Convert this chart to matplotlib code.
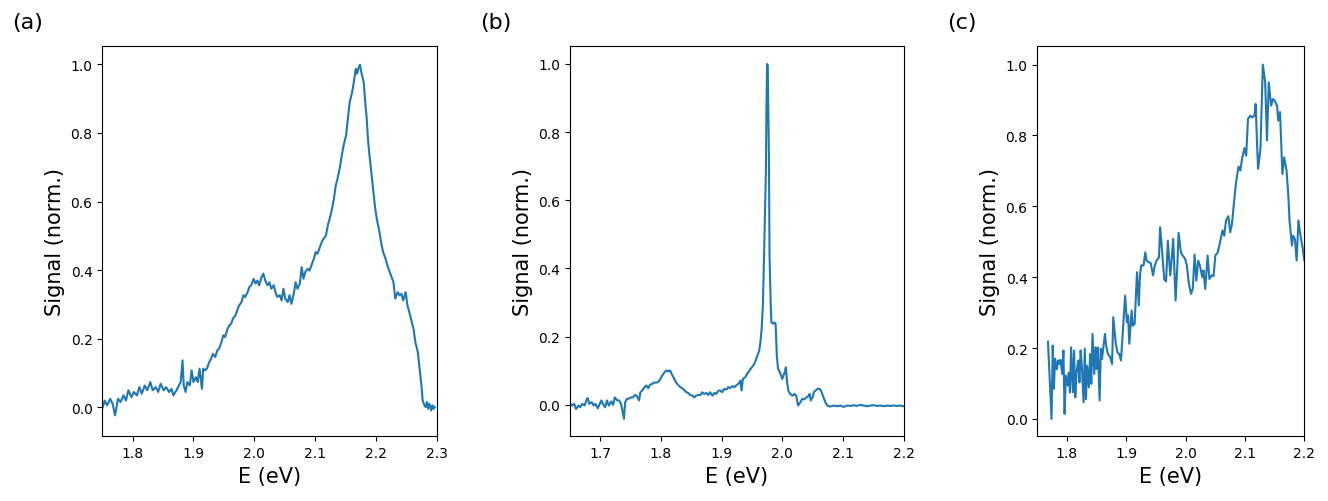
import matplotlib
matplotlib.use("Agg")
import matplotlib.pyplot as plt

# panel (a)
energy_a = [1.750, 1.754, 1.758, 1.763, 1.767, 1.771, 1.776, 1.780, 1.785, 1.789,
            1.793, 1.798, 1.802, 1.807, 1.811, 1.815, 1.820, 1.824, 1.829, 1.833,
            1.838, 1.842, 1.846, 1.851, 1.855, 1.860, 1.864, 1.867, 1.872, 1.876,
            1.879, 1.882, 1.884, 1.887, 1.890, 1.894, 1.897, 1.900, 1.904, 1.907,
            1.910, 1.914, 1.916, 1.919, 1.922, 1.926, 1.929, 1.932, 1.936, 1.939,
            1.942, 1.946, 1.949, 1.952, 1.956, 1.959, 1.962, 1.965, 1.969, 1.972,
            1.975, 1.979, 1.982, 1.985, 1.989, 1.992, 1.995, 1.999, 2.002, 2.005,
            2.008, 2.012, 2.015, 2.018, 2.022, 2.025, 2.028, 2.032, 2.035, 2.038,
            2.042, 2.045, 2.048, 2.051, 2.055, 2.058, 2.061, 2.065, 2.068, 2.071,
            2.075, 2.078, 2.081, 2.084, 2.088, 2.091, 2.094, 2.098, 2.101, 2.104,
            2.108, 2.111, 2.114, 2.118, 2.121, 2.124, 2.128, 2.131, 2.134, 2.137,
            2.141, 2.144, 2.147, 2.151, 2.154, 2.157, 2.161, 2.163, 2.165, 2.167,
            2.169, 2.172, 2.174, 2.176, 2.178, 2.180, 2.183, 2.185, 2.187, 2.189,
            2.193, 2.196, 2.199, 2.202, 2.206, 2.209, 2.212, 2.216, 2.219, 2.222,
            2.226, 2.229, 2.232, 2.236, 2.239, 2.242, 2.245, 2.249, 2.252, 2.255,
            2.259, 2.262, 2.265, 2.269, 2.272, 2.275, 2.277, 2.280, 2.282, 2.284,
            2.286, 2.288, 2.291, 2.293, 2.295, 2.297]
signal_a = [-0.004, 0.020, 0.006, 0.025, 0.011, -0.023, 0.025, 0.016, 0.035, 0.020,
            0.050, 0.030, 0.045, 0.035, 0.059, 0.040, 0.064, 0.050, 0.074, 0.050,
            0.059, 0.045, 0.069, 0.050, 0.059, 0.045, 0.054, 0.035, 0.050, 0.064,
            0.074, 0.137, 0.064, 0.045, 0.074, 0.064, 0.108, 0.074, 0.088, 0.074,
            0.113, 0.054, 0.113, 0.108, 0.113, 0.132, 0.142, 0.156, 0.147, 0.166,
            0.171, 0.190, 0.210, 0.205, 0.229, 0.239, 0.244, 0.259, 0.268, 0.283,
            0.297, 0.307, 0.327, 0.322, 0.336, 0.351, 0.356, 0.375, 0.361, 0.370,
            0.356, 0.380, 0.390, 0.370, 0.356, 0.365, 0.346, 0.356, 0.336, 0.322,
            0.327, 0.312, 0.346, 0.317, 0.307, 0.327, 0.302, 0.331, 0.365, 0.346,
            0.361, 0.409, 0.375, 0.395, 0.404, 0.399, 0.414, 0.433, 0.453, 0.448,
            0.467, 0.482, 0.492, 0.501, 0.531, 0.550, 0.579, 0.608, 0.647, 0.667,
            0.701, 0.735, 0.764, 0.793, 0.842, 0.890, 0.919, 0.939, 0.963, 0.987,
            0.973, 0.992, 0.999, 0.978, 0.963, 0.948, 0.880, 0.842, 0.783, 0.744,
            0.676, 0.628, 0.579, 0.545, 0.511, 0.477, 0.453, 0.433, 0.414, 0.399,
            0.380, 0.365, 0.317, 0.336, 0.327, 0.331, 0.312, 0.336, 0.297, 0.278,
            0.249, 0.229, 0.190, 0.161, 0.113, 0.064, 0.020, 0.006, 0.001, 0.016,
            -0.004, 0.011, -0.009, 0.006, -0.004, 0.001]

# panel (b)
energy_b = [1.651, 1.654, 1.657, 1.660, 1.664, 1.667, 1.670, 1.674, 1.677, 1.679,
            1.682, 1.686, 1.689, 1.692, 1.696, 1.699, 1.702, 1.704, 1.708, 1.711,
            1.714, 1.718, 1.721, 1.724, 1.728, 1.731, 1.734, 1.736, 1.739, 1.741,
            1.744, 1.747, 1.751, 1.754, 1.757, 1.760, 1.764, 1.766, 1.769, 1.773,
            1.776, 1.779, 1.782, 1.786, 1.789, 1.792, 1.796, 1.799, 1.802, 1.806,
            1.809, 1.812, 1.815, 1.819, 1.822, 1.825, 1.829, 1.832, 1.835, 1.839,
            1.842, 1.845, 1.848, 1.852, 1.855, 1.858, 1.862, 1.865, 1.868, 1.871,
            1.875, 1.878, 1.881, 1.885, 1.888, 1.891, 1.895, 1.898, 1.901, 1.904,
            1.908, 1.911, 1.914, 1.918, 1.921, 1.924, 1.928, 1.931, 1.933, 1.935,
            1.939, 1.942, 1.945, 1.948, 1.952, 1.955, 1.958, 1.962, 1.964, 1.966,
            1.968, 1.970, 1.973, 1.974, 1.975, 1.976, 1.978, 1.979, 1.981, 1.982,
            1.985, 1.987, 1.989, 1.991, 1.993, 1.996, 1.998, 2.000, 2.002, 2.004,
            2.006, 2.008, 2.010, 2.013, 2.017, 2.020, 2.023, 2.026, 2.030, 2.033,
            2.036, 2.040, 2.043, 2.045, 2.047, 2.050, 2.052, 2.055, 2.058, 2.062,
            2.065, 2.068, 2.071, 2.074, 2.079, 2.085, 2.090, 2.096, 2.101, 2.107,
            2.112, 2.118, 2.123, 2.129, 2.134, 2.140, 2.145, 2.151, 2.156, 2.162,
            2.167, 2.173, 2.178, 2.184, 2.189, 2.195, 2.200]
signal_b = [0.003, -0.002, 0.003, -0.012, -0.002, -0.007, 0.003, -0.002, 0.013, 0.020,
            0.003, 0.008, -0.002, 0.003, -0.010, 0.003, 0.013, 0.003, -0.007, 0.013,
            -0.002, 0.010, 0.000, 0.022, 0.013, 0.013, 0.003, -0.012, -0.041, 0.008,
            0.018, 0.018, 0.022, 0.022, 0.029, 0.027, 0.013, 0.037, 0.042, 0.052,
            0.057, 0.049, 0.059, 0.062, 0.066, 0.065, 0.068, 0.076, 0.086, 0.096,
            0.101, 0.098, 0.101, 0.086, 0.076, 0.066, 0.057, 0.052, 0.049, 0.042,
            0.037, 0.035, 0.029, 0.027, 0.022, 0.027, 0.029, 0.029, 0.037, 0.032,
            0.035, 0.029, 0.037, 0.027, 0.035, 0.032, 0.042, 0.042, 0.037, 0.047,
            0.045, 0.052, 0.049, 0.055, 0.052, 0.057, 0.062, 0.071, 0.042, 0.076,
            0.081, 0.091, 0.098, 0.106, 0.115, 0.125, 0.140, 0.159, 0.184, 0.223,
            0.291, 0.438, 0.682, 0.878, 1.000, 0.995, 0.731, 0.438, 0.291, 0.242,
            0.238, 0.242, 0.238, 0.145, 0.106, 0.096, 0.086, 0.076, 0.086, 0.096,
            0.110, 0.066, 0.042, 0.032, 0.027, 0.032, 0.027, -0.002, 0.008, 0.018,
            0.016, 0.022, 0.025, 0.032, 0.013, 0.022, 0.037, 0.042, 0.047, 0.047,
            0.037, 0.022, 0.008, -0.002, -0.005, -0.002, -0.004, -0.002, -0.006, -0.002,
            -0.003, -0.001, -0.003, 0.000, -0.002, -0.004, -0.002, -0.001, -0.003, -0.002,
            -0.004, -0.002, -0.003, -0.002, -0.003, -0.002, -0.004]

# panel (c)
energy_c = [1.768, 1.774, 1.776, 1.778, 1.780, 1.783, 1.785, 1.787, 1.789, 1.792,
            1.794, 1.796, 1.798, 1.801, 1.803, 1.805, 1.807, 1.810, 1.812, 1.814,
            1.816, 1.819, 1.821, 1.823, 1.825, 1.828, 1.830, 1.832, 1.834, 1.837,
            1.839, 1.841, 1.843, 1.846, 1.848, 1.850, 1.852, 1.855, 1.857, 1.859,
            1.861, 1.864, 1.866, 1.869, 1.873, 1.876, 1.878, 1.882, 1.885, 1.888,
            1.891, 1.894, 1.898, 1.901, 1.903, 1.905, 1.909, 1.911, 1.914, 1.918,
            1.921, 1.923, 1.925, 1.929, 1.932, 1.934, 1.938, 1.941, 1.945, 1.948,
            1.951, 1.955, 1.957, 1.960, 1.964, 1.967, 1.970, 1.974, 1.976, 1.979,
            1.983, 1.986, 1.988, 1.992, 1.995, 1.999, 2.002, 2.005, 2.009, 2.012,
            2.015, 2.018, 2.021, 2.024, 2.028, 2.030, 2.033, 2.037, 2.040, 2.044,
            2.047, 2.050, 2.054, 2.058, 2.062, 2.065, 2.068, 2.072, 2.075, 2.078,
            2.082, 2.085, 2.089, 2.092, 2.095, 2.099, 2.102, 2.105, 2.109, 2.112,
            2.116, 2.118, 2.120, 2.122, 2.126, 2.130, 2.134, 2.137, 2.140, 2.144,
            2.147, 2.150, 2.154, 2.156, 2.159, 2.163, 2.166, 2.170, 2.173, 2.175,
            2.179, 2.181, 2.184, 2.187, 2.190, 2.193, 2.197, 2.200]
signal_c = [0.218, 0.000, 0.207, 0.085, 0.170, 0.140, 0.165, 0.155, 0.167, 0.127,
            0.193, 0.014, 0.122, 0.094, 0.130, 0.075, 0.202, 0.075, 0.193, 0.061,
            0.130, 0.165, 0.103, 0.193, 0.150, 0.047, 0.198, 0.056, 0.150, 0.089,
            0.183, 0.099, 0.240, 0.127, 0.202, 0.141, 0.202, 0.052, 0.198, 0.169,
            0.198, 0.240, 0.207, 0.183, 0.174, 0.155, 0.287, 0.216, 0.188, 0.183,
            0.165, 0.245, 0.348, 0.273, 0.292, 0.212, 0.306, 0.263, 0.268, 0.414,
            0.320, 0.405, 0.433, 0.433, 0.470, 0.447, 0.442, 0.440, 0.405, 0.433,
            0.447, 0.456, 0.541, 0.480, 0.393, 0.388, 0.503, 0.405, 0.442, 0.508,
            0.334, 0.433, 0.525, 0.470, 0.461, 0.452, 0.433, 0.386, 0.353, 0.367,
            0.464, 0.390, 0.447, 0.433, 0.400, 0.419, 0.367, 0.461, 0.395, 0.405,
            0.403, 0.461, 0.470, 0.499, 0.532, 0.517, 0.560, 0.572, 0.527, 0.550,
            0.621, 0.668, 0.712, 0.701, 0.734, 0.764, 0.743, 0.847, 0.856, 0.851,
            0.856, 0.889, 0.790, 0.706, 0.762, 1.000, 0.950, 0.786, 0.950, 0.884,
            0.903, 0.898, 0.884, 0.842, 0.866, 0.691, 0.738, 0.701, 0.630, 0.560,
            0.489, 0.517, 0.508, 0.447, 0.560, 0.522, 0.484, 0.447]

fig = plt.figure(figsize=(13.28, 5.02), dpi=100)

ax1 = fig.add_axes([0.0770, 0.1290, 0.2518, 0.7770])
ax2 = fig.add_axes([0.4292, 0.1290, 0.2512, 0.7770])
ax3 = fig.add_axes([0.7811, 0.1290, 0.2011, 0.7770])

ax1.plot(energy_a, signal_a, color="#1f77b4", lw=1.5)
ax1.set_xlim(1.75, 2.3)
ax1.set_ylim(-0.084, 1.053)

ax2.plot(energy_b, signal_b, color="#1f77b4", lw=1.5)
ax2.set_xlim(1.65, 2.2)
ax2.set_ylim(-0.092, 1.052)

ax3.plot(energy_c, signal_c, color="#1f77b4", lw=1.5)
ax3.set_xlim(1.75, 2.2)
ax3.set_ylim(-0.049, 1.052)

for ax, letter in zip([ax1, ax2, ax3], ["(a)", "(b)", "(c)"]):
    ax.set_xlabel("E (eV)", fontsize=15)
    ax.set_ylabel("Signal (norm.)", fontsize=15)
    ax.tick_params(labelsize=10)
    left = ax.get_position().x0
    fig.text(left - 90 / 1328, 0.954, letter, fontsize=16, va="center")

fig.savefig("out.png", dpi=100)
